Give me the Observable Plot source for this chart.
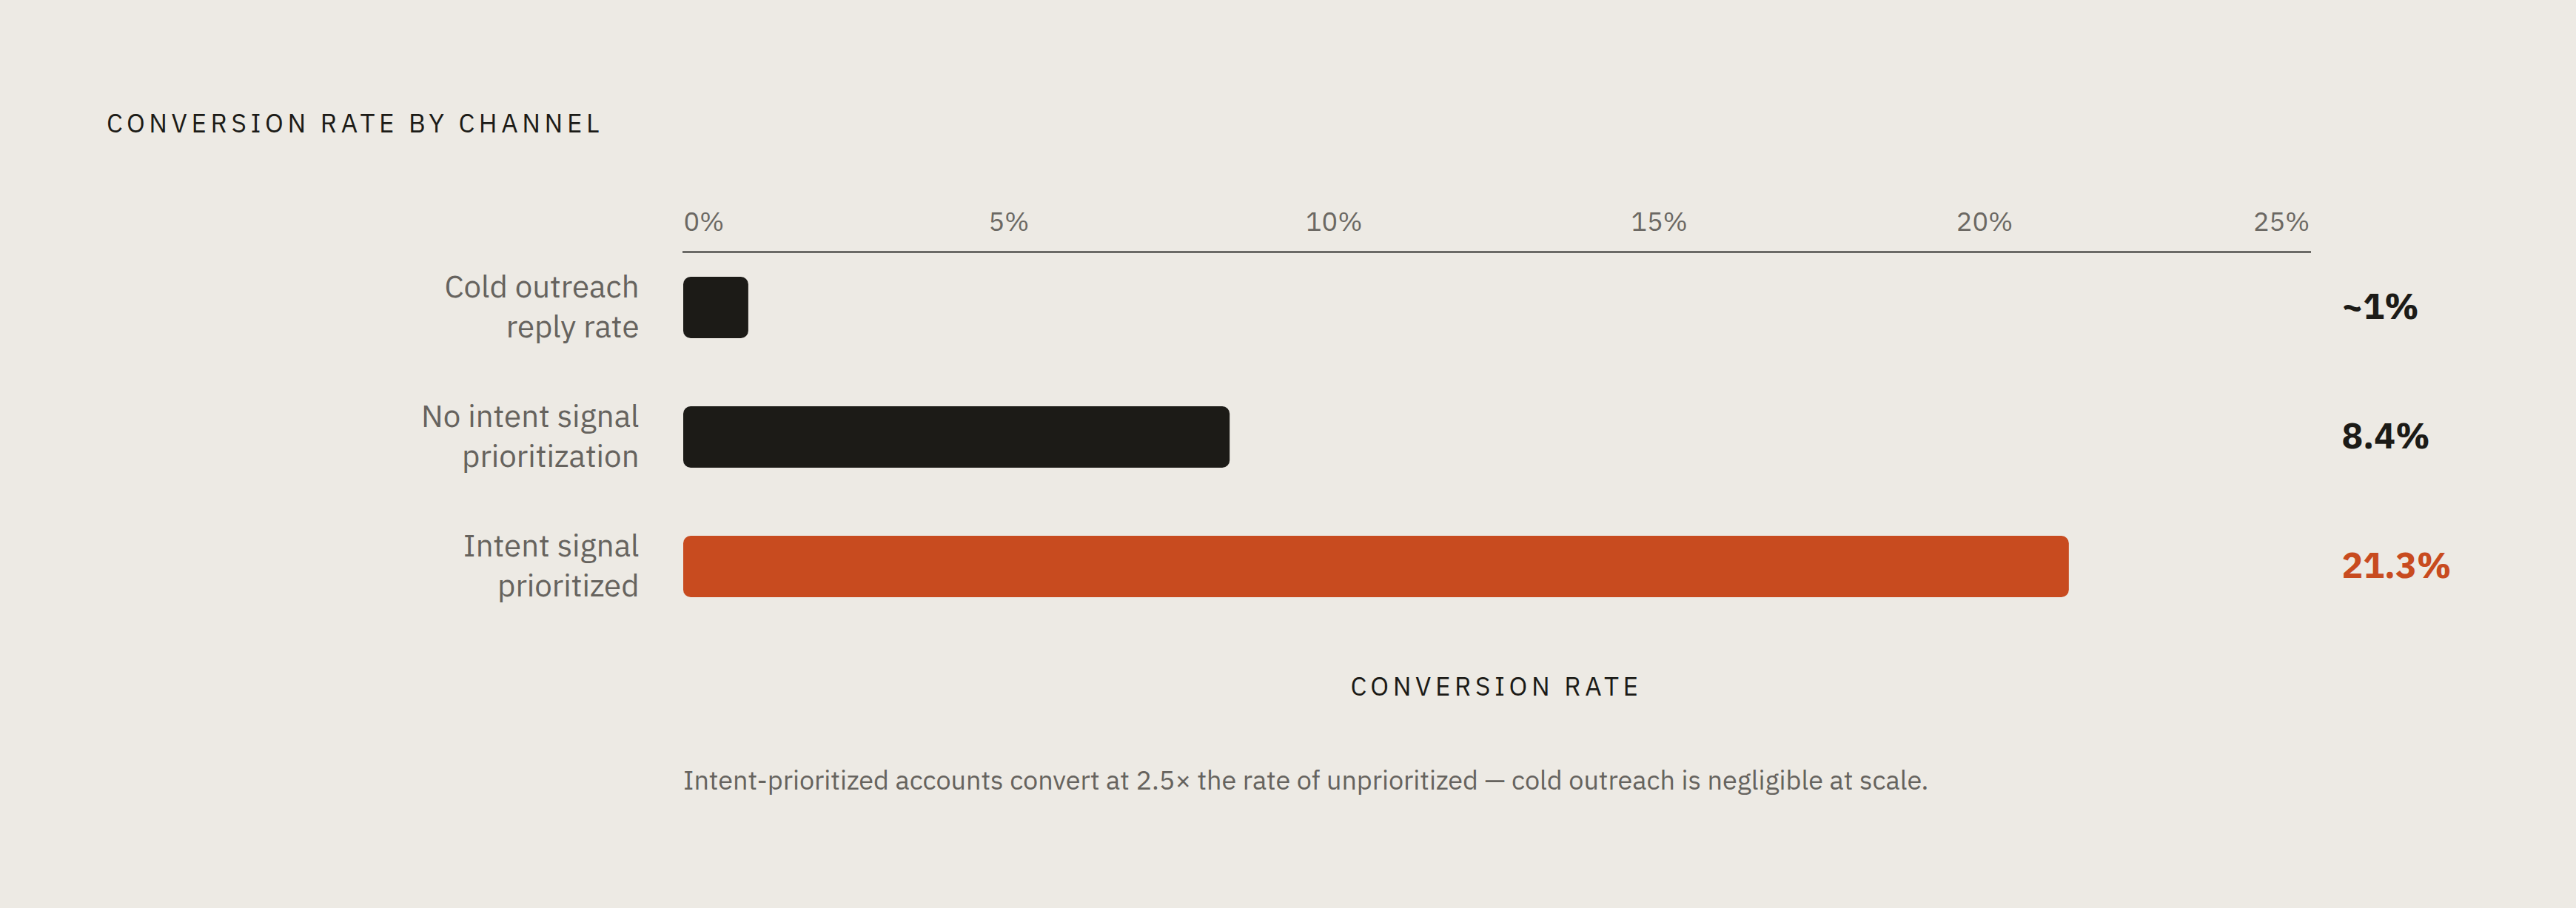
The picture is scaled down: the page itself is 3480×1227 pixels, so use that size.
<!DOCTYPE html>
<html>
<head>
<meta charset="utf-8">
<script src="https://cdn.jsdelivr.net/npm/d3@7"></script>
<script src="https://cdn.jsdelivr.net/npm/@observablehq/plot@0.6"></script>
<style>
  html, body { margin: 0; padding: 0; background: #edeae4; }
  body { width: 3480px; height: 1227px; position: relative; overflow: hidden;
         font-family: "IBM Plex Sans", Roboto, "Noto Sans", sans-serif; }
  #title { position: absolute; left: 144px; top: 149px; font-size: 35px; line-height: 35px;
           letter-spacing: 0.16em; color: #1c1b17; white-space: nowrap; }
  #chart { position: absolute; left: 0; top: 240px; }
  #xlabel { position: absolute; left: 923px; width: 2197px; top: 910px; text-align: center;
            font-size: 35px; line-height: 35px; letter-spacing: 0.16em; color: #1c1b17; }
  #caption { position: absolute; left: 923px; top: 1036px; font-size: 36px; line-height: 36px;
             color: #66635e; white-space: nowrap; }
</style>
</head>
<body>
<div id="title">CONVERSION RATE BY CHANNEL</div>
<div id="chart"></div>
<div id="xlabel">CONVERSION RATE</div>
<div id="caption">Intent-prioritized accounts convert at 2.5× the rate of unprioritized — cold outreach is negligible at scale.</div>
<script>
const categories = ["Cold outreach\nreply rate", "No intent signal\nprioritization", "Intent signal\nprioritized"];
const values = [1, 8.4, 21.3];
const valueLabels = ["~1%", "8.4%", "21.3%"];
const highlighted = [false, false, true];
const xTicks = [0, 5, 10, 15, 20, 25];

const data = categories.map((c, i) => ({
  channel: c, value: values[i], label: valueLabels[i],
  group: highlighted[i] ? "Intent" : "Other"
}));

const font = '"IBM Plex Sans", Roboto, "Noto Sans", sans-serif';
const tickFill = "#6b6863";

const chart = Plot.plot({
  width: 3480,
  height: 740,
  marginTop: 100,
  marginBottom: 139,
  marginLeft: 923,
  marginRight: 360,
  style: { background: "transparent", fontFamily: font, overflow: "visible" },
  x: { domain: [0, 25], axis: null },
  y: { domain: categories, axis: null, paddingInner: 0.528, paddingOuter: 0.1875 },
  color: { domain: ["Other", "Intent"], range: ["#1c1b17", "#c84b1f"] },
  marks: [
    Plot.frame({ anchor: "top", stroke: "#6b6a66", strokeWidth: 3 }),
    Plot.text(xTicks.slice(0, 1), { x: d => d, text: d => d + "%", frameAnchor: "top", dy: -54, textAnchor: "start", fontSize: 36, fill: tickFill }),
    Plot.text(xTicks.slice(1, -1), { x: d => d, text: d => d + "%", frameAnchor: "top", dy: -54, textAnchor: "middle", fontSize: 36, fill: tickFill }),
    Plot.text(xTicks.slice(-1), { x: d => d, text: d => d + "%", frameAnchor: "top", dy: -54, textAnchor: "end", fontSize: 36, fill: tickFill }),
    Plot.barX(data, { x: "value", y: "channel", fill: "group", rx: 10, inset: 0 }),
    Plot.text(data, { y: "channel", text: "channel", frameAnchor: "left", textAnchor: "end", dx: -60, dy: -4, fontSize: 42, lineHeight: 1.27, fill: "#66635e" }),
    Plot.text(data, { y: "channel", text: "label", frameAnchor: "right", textAnchor: "start", dx: 43, fontSize: 48, fontWeight: 700, fill: "group" })
  ]
});
document.getElementById("chart").appendChild(chart);
</script>
</body>
</html>
